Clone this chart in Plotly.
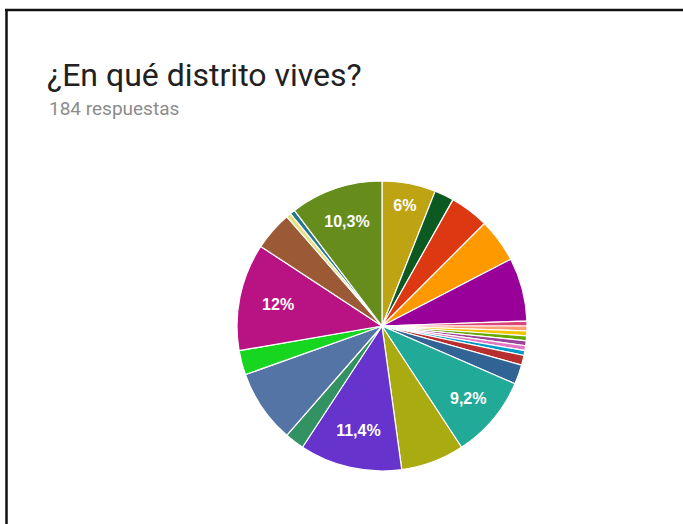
import plotly.graph_objects as go

W, H = 683, 524

# Respuestas por distrito, en el orden en que se dibujan (sentido horario desde las 12)
distritos = [
    "Chamberí", "Barajas", "Centro", "Arganzuela", "Retiro",
    "Vicálvaro", "Villaverde", "Villa de Vallecas", "Moratalaz", "Usera",
    "Alcobendas", "Getafe",
    "Tetuán", "Salamanca", "Moncloa-Aravaca", "Hortaleza", "Latina",
    "San Blas-Canillejas", "Chamartín", "Pozuelo", "Carabanchel",
    "Ciudad Lineal", "Otro", "Leganés", "Fuencarral-El Pardo",
]
respuestas = [
    11, 4, 8, 9, 13,
    1, 1, 1, 1, 1,
    1, 1,
    2, 4, 17, 13, 21,
    4, 15, 5, 22,
    8, 1, 1, 19,
]
colores = [
    "#bea413", "#0c5922", "#dc3912", "#ff9900", "#990099",
    "#dd4477", "#ff9f73", "#f2c500", "#66aa00", "#994499",
    "#e377c2", "#0099c6",
    "#b82e2e", "#316395", "#22aa99", "#aaaa11", "#6633cc",
    "#329262", "#5574a6", "#16d620", "#b91383",
    "#9c5935", "#e8e07a", "#2a778d", "#668d1c",
]
# Porciones que llevan el porcentaje escrito
con_etiqueta = ["Chamberí", "Moncloa-Aravaca", "Latina", "Carabanchel", "Fuencarral-El Pardo"]

total = sum(respuestas)


def pct(v):
    s = f"{v / total * 100:.1f}".replace(".", ",")
    if s.endswith(",0"):
        s = s[:-2]
    return s + "%"


textos = [f"<b>{pct(v)}</b>" if d in con_etiqueta else "" for d, v in zip(distritos, respuestas)]


def px(x):
    return x / W


def py(y):
    return 1 - y / H


cx, cy, r = 382, 326, 145

fig = go.Figure(
    go.Pie(
        labels=distritos,
        values=respuestas,
        text=textos,
        textinfo="text",
        textposition="inside",
        insidetextorientation="horizontal",
        textfont=dict(family="Arial", size=16, color="white"),
        marker=dict(colors=colores, line=dict(color="white", width=1.2)),
        sort=False,
        direction="clockwise",
        rotation=0,
        hoverinfo="skip",
        domain=dict(x=[px(cx - r), px(cx + r)], y=[py(cy + r), py(cy - r)]),
    )
)

fig.update_layout(
    width=W,
    height=H,
    margin=dict(l=0, r=0, t=0, b=0),
    paper_bgcolor="white",
    plot_bgcolor="white",
    showlegend=False,
    annotations=[
        dict(
            text="¿En qué distrito vives?",
            x=px(45), y=py(75), xref="paper", yref="paper",
            xanchor="left", yanchor="middle", showarrow=False,
            font=dict(family="Roboto", size=32, color="#212121"),
        ),
        dict(
            text="184 respuestas",
            x=px(47), y=py(108), xref="paper", yref="paper",
            xanchor="left", yanchor="middle", showarrow=False,
            font=dict(family="Roboto", size=19, color="#8c8c8c"),
        ),
    ],
    shapes=[
        dict(type="line", xref="paper", yref="paper",
             x0=px(5), x1=1, y0=py(10), y1=py(10),
             line=dict(color="#111111", width=2.5)),
        dict(type="line", xref="paper", yref="paper",
             x0=px(6.5), x1=px(6.5), y0=py(9), y1=0,
             line=dict(color="#111111", width=2.5)),
    ],
)

fig.write_html("out.html")
